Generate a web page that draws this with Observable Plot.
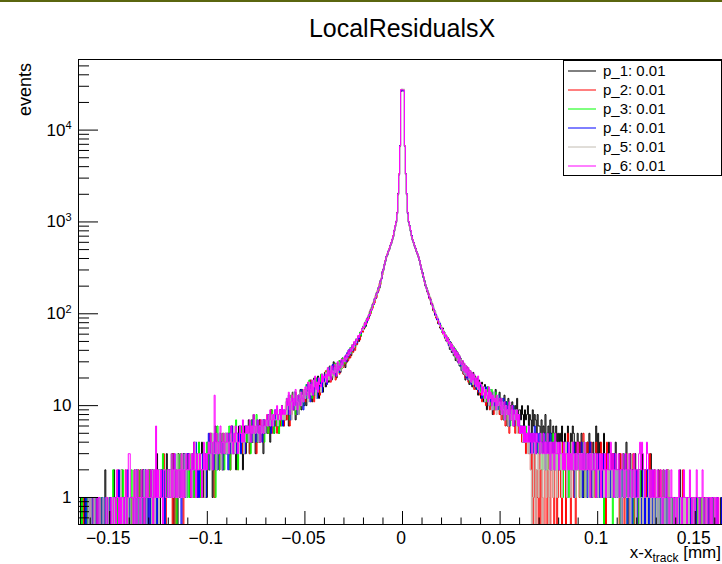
<!DOCTYPE html>
<html>
<head>
<meta charset="utf-8">
<script src="https://cdn.jsdelivr.net/npm/d3@7"></script>
<script src="https://cdn.jsdelivr.net/npm/@observablehq/plot@0.6"></script>
<style>
html, body { margin: 0; padding: 0; background: #fff; overflow: hidden; }
#wrap { position: relative; width: 722px; height: 564px; overflow: hidden; background: #fff;
        font-family: "Liberation Sans", Arial, Helvetica, sans-serif; }
#topbar { position: absolute; left: 0; top: 0; width: 722px; height: 2px; background: #5a650f; }
#title { display: block; }
.overlay { position: absolute; left: 0; top: 0; pointer-events: none; }
</style>
</head>
<body>
<div id="wrap">
  <svg id="title" width="722" height="48">
    <text x="402" y="37" text-anchor="middle" font-size="25" fill="#000"
          font-family="Liberation Sans, Arial, sans-serif">LocalResidualsX</text>
  </svg>
  <div id="chart"></div>
  <div id="topbar"></div>
  <svg class="overlay" width="722" height="564" id="labels"></svg>
</div>
<script>
// ---------------- data ----------------
// bin width 0.0005 mm; "Left" arrays run from x = -0.166 up to 0, "Right" arrays from 0 up to +0.166
const binWidth = 0.0005;
const seriesNames = ["p_1: 0.01", "p_2: 0.01", "p_3: 0.01", "p_4: 0.01", "p_5: 0.01", "p_6: 0.01"];

const p1Left = [
0,0,1,0,0,0,1,0,0,0,0,1,
0,1,0,0,1,0,0,0,1,1,0,0,1,0,0,2,0,1,0,0,
1,0,0,1,2,0,1,0,0,1,1,0,2,1,0,0,1,0,1,1,
1,0,0,1,1,2,0,1,1,0,0,2,1,0,2,1,0,1,1,2,
1,2,0,0,2,1,1,0,3,1,1,0,2,1,1,2,0,1,3,1,
2,1,1,2,3,0,1,2,2,0,3,1,2,1,2,3,1,1,2,2,
3,2,1,1,3,2,4,2,1,1,3,2,2,3,4,1,2,2,3,1,
4,3,2,5,3,1,4,3,6,2,3,4,2,5,3,3,2,4,5,3,
4,5,3,2,6,4,3,5,4,2,5,3,6,4,3,5,2,4,6,3,
5,4,7,3,6,5,4,8,5,3,6,4,5,7,4,6,5,3,7,5,
7,5,8,6,4,9,6,7,5,8,6,9,7,5,8,6,10,7,6,8,
7,11,9,6,12,8,10,14,9,11,7,13,10,8,12,15,9,11,13,10,
15,10,13,17,12,19,14,11,16,20,13,17,15,21,12,18,16,22,14,19,
23,16,20,25,18,27,21,19,24,30,22,26,20,29,25,31,23,28,33,27,
32,26,35,30,38,33,41,35,44,39,48,43,53,47,55,50,62,57,64,71,
68,80,73,88,85,97,95,112,110,128,126,147,145,170,168,195,190,232,240,290,
300,345,372,420,438,482,500,560,580,650,690,815,885,1020,1230,2050,3250,6800,26500,27800
];
const p1Right = [
27200,26900,6650,3350,1980,1270,990,910,790,710,630,600,540,520,470,450,410,385,335,310,
285,248,232,200,195,172,166,148,144,126,124,108,110,96,90,86,78,80,70,74,
63,70,58,62,51,57,48,53,41,49,38,45,35,42,31,39,30,36,27,33,
24,31,22,28,19,27,21,25,17,24,20,16,23,18,21,15,20,13,19,16,
12,18,14,11,17,13,9,16,12,15,10,14,8,13,11,15,9,12,10,14,
8,12,10,7,13,9,11,6,12,8,10,7,11,9,6,10,8,12,7,9,
9,7,10,8,6,9,7,8,10,6,8,7,5,9,6,8,7,5,8,6,
6,5,7,4,6,5,8,4,5,6,3,7,5,4,6,5,3,6,4,5,
4,5,3,6,2,4,5,3,4,6,3,2,5,4,6,5,2,4,3,5,
3,4,2,5,3,1,4,3,2,4,3,5,2,3,1,4,3,2,6,3,
5,3,4,1,3,2,5,2,1,3,2,4,1,3,2,3,1,2,4,2,
2,1,3,2,0,2,3,1,2,4,1,2,0,3,1,2,2,1,3,1,
1,2,0,2,1,3,1,0,2,1,2,1,0,2,3,1,1,0,2,1,
1,0,2,1,1,0,1,2,0,1,1,0,2,1,0,1,0,1,1,0,
1,0,1,0,2,0,1,1,0,0,1,0,1,0,1,0,0,1,0,1,
0,1,0,0,1,0,0,1,0,1,0,0,0,1,0,0,1,0,0,0,
0,1,0,0,0,0,1,0,0,0,0,0
];

const p2Left = [
0,0,0,0,1,0,0,0,0,1,0,0,
1,0,0,0,0,1,0,1,0,0,0,1,0,0,1,0,0,1,0,1,
0,1,1,0,0,1,0,0,2,0,1,0,1,0,0,1,2,0,0,1,
1,1,0,1,0,1,2,0,0,2,1,0,0,2,1,0,1,1,1,0,
2,1,0,2,1,0,1,2,1,2,0,1,1,2,1,3,1,0,2,1,
1,2,2,1,0,3,2,0,2,1,2,1,2,3,1,0,3,2,1,2,
2,3,2,1,2,2,1,3,3,2,1,4,2,1,2,3,2,1,3,2,
3,2,5,4,3,2,4,1,3,5,3,4,2,3,4,2,5,3,4,3,
5,3,4,2,4,6,3,4,5,3,4,2,5,4,6,3,4,5,3,4,
4,6,5,3,5,7,4,5,6,4,3,6,5,4,7,5,6,4,5,6,
6,8,5,7,6,9,5,7,8,6,7,5,8,7,6,9,7,8,6,7,
10,7,9,12,6,11,8,13,10,9,14,8,11,12,9,13,10,15,11,12,
11,16,13,18,12,14,19,13,17,11,16,20,14,18,15,13,21,16,19,17,
19,24,17,22,26,20,18,25,23,21,28,19,26,24,30,22,27,25,32,26,
28,34,29,37,31,39,33,36,42,38,45,40,51,46,50,58,52,60,67,63,
76,70,83,79,92,88,106,100,118,115,135,131,158,150,180,176,214,208,246,265,
310,335,385,410,452,470,518,545,598,630,712,790,910,985,1270,1970,3350,6600,27300,26800
];
const p2Right = [
26900,27500,6750,3280,2020,1240,1010,890,805,695,645,585,555,505,480,440,420,375,345,300,
270,255,222,210,190,178,170,146,150,128,130,112,104,100,90,92,80,82,72,68,
66,60,64,54,58,50,55,45,50,42,46,38,43,35,40,32,37,30,34,28,
26,29,22,27,20,25,23,18,24,19,22,17,21,15,19,16,18,14,17,13,
15,11,16,12,14,10,15,11,13,9,14,10,12,8,13,9,11,10,12,8,
10,7,11,8,9,6,10,7,9,5,8,7,9,6,8,5,7,6,8,5,
5,6,4,5,4,5,3,4,5,3,4,2,3,0,1,4,0,2,1,0,
3,0,2,1,0,0,4,2,0,3,1,0,2,4,1,0,3,2,0,1,
2,3,1,0,4,2,3,0,1,5,2,3,0,2,4,1,3,0,2,4,
3,1,4,2,3,5,2,1,3,4,2,3,1,4,2,3,2,1,4,2,
1,3,2,4,2,1,3,2,0,4,2,1,3,2,1,2,3,1,2,1,
2,1,0,3,1,2,2,0,1,3,1,2,0,1,2,1,3,0,2,1,
1,0,2,1,0,1,2,1,0,2,1,0,1,3,0,1,1,0,2,0,
0,1,1,0,2,0,1,0,1,1,0,2,0,1,0,0,1,1,0,1,
1,0,0,1,0,1,0,2,0,0,1,0,1,0,0,1,0,0,1,0,
0,0,1,0,0,0,1,0,0,1,0,0,0,0,1,0,0,0,1,0,
0,0,0,1,0,0,0,0,0,1,0,0
];

const p3Left = [
0,0,0,1,0,0,0,0,1,0,0,0,
0,0,1,0,1,0,0,0,0,1,0,1,0,0,0,1,1,0,0,1,
0,1,0,2,0,0,1,1,0,1,0,0,1,2,0,1,0,1,1,0,
1,0,2,1,1,0,1,0,2,0,1,2,0,0,1,1,2,1,0,1,
2,1,0,1,1,2,2,0,1,0,2,1,1,1,3,1,0,2,1,1,
2,1,1,3,2,1,2,2,0,3,1,2,3,1,1,2,1,3,2,1,
2,1,2,3,3,1,2,1,3,2,2,4,1,2,1,3,2,2,3,4,
2,4,3,3,5,2,4,3,1,4,6,3,2,4,3,5,3,2,4,3,
3,4,6,2,4,3,5,4,3,7,4,2,4,5,3,6,4,3,5,4,
5,4,6,5,3,7,5,4,6,5,8,4,5,6,4,5,7,5,4,6,
7,6,5,8,6,7,9,6,5,8,7,6,8,5,9,7,6,8,7,9,
8,12,9,11,7,13,10,9,12,14,8,11,10,13,9,12,15,11,10,14,
13,17,12,15,19,14,16,12,18,15,13,20,16,14,19,17,22,15,18,20,
21,18,24,20,26,19,23,27,21,25,22,29,24,26,23,31,27,25,33,28,
33,29,36,32,40,35,43,37,46,41,49,44,53,49,57,54,63,58,69,73,
75,71,84,80,92,91,104,103,118,120,132,140,150,158,175,182,205,215,242,275,
295,350,370,425,430,485,505,555,585,645,695,805,890,1010,1240,2010,3300,6650,27100,27400
];
const p3Right = [
27000,27300,6700,3320,2000,1250,1000,900,800,705,640,592,548,512,474,446,414,380,340,306,
280,245,230,205,193,180,160,157,140,137,122,120,107,106,94,93,84,82,74,75,
70,62,65,55,59,50,55,46,50,41,47,39,44,34,41,32,38,29,35,27,
31,25,29,23,27,21,26,20,24,18,23,17,22,19,20,16,19,15,18,14,
17,13,16,12,15,14,11,16,12,13,10,15,11,12,9,14,10,11,13,9,
11,9,12,8,10,9,7,11,8,10,6,9,8,10,7,8,9,6,8,7,
6,5,6,5,5,4,6,4,5,4,5,3,5,4,3,5,4,3,4,3,
4,3,5,2,4,3,3,5,2,4,3,2,4,3,5,2,3,4,2,3,
3,2,4,3,1,3,2,4,2,3,1,3,2,4,3,2,3,1,3,2,
2,3,1,3,2,4,2,1,3,2,3,1,2,3,2,1,3,2,2,1,
2,1,3,1,2,2,0,3,1,2,1,2,3,1,2,0,2,1,3,1,
1,2,1,0,2,1,3,1,1,2,0,1,2,1,1,2,0,1,2,1,
1,1,0,2,1,0,1,1,2,0,1,1,0,1,2,0,1,1,0,1,
0,1,1,0,1,1,0,2,0,1,0,1,1,0,0,1,1,0,1,0,
1,0,0,1,0,0,1,0,1,1,0,0,1,0,0,1,0,0,0,1,
0,0,1,0,0,1,0,0,0,0,1,0,0,1,0,0,0,0,1,0,
0,1,0,0,0,0,0,0,1,0,0,0
];

const p4Left = [
0,0,0,0,0,0,0,1,0,0,1,0,
0,1,0,0,0,1,0,0,1,0,0,0,1,0,1,0,0,1,0,0,
1,0,0,1,0,1,1,0,0,2,0,1,0,1,0,1,0,0,2,1,
0,1,1,1,0,1,0,2,0,1,1,0,1,0,2,1,2,0,1,0,
1,0,1,2,1,1,0,2,0,1,2,1,1,2,1,2,0,1,1,2,
1,2,2,1,1,2,3,1,2,1,1,2,2,0,2,2,3,1,1,3,
3,2,2,2,1,3,2,2,4,1,2,1,3,2,2,3,2,3,1,2,
3,5,2,4,3,3,2,5,3,4,2,3,5,3,4,2,4,3,3,5,
4,2,5,4,3,6,4,3,5,4,3,5,4,6,3,4,5,4,3,6,
6,5,4,6,5,4,7,5,6,4,5,7,4,6,5,6,4,7,5,5,
6,7,8,6,7,5,8,7,6,9,7,8,6,7,9,8,7,6,9,8,
9,11,8,13,10,7,12,11,9,14,10,12,8,13,11,10,15,12,9,13,
14,12,17,13,16,11,18,15,13,19,14,17,12,20,16,15,18,14,21,17,
22,19,17,24,21,26,20,23,28,22,25,21,27,24,29,23,26,31,27,30,
31,35,30,38,34,41,36,39,44,40,47,45,51,48,55,53,60,61,66,70,
74,73,82,81,90,93,100,108,112,125,127,144,150,163,172,190,200,224,238,282,
308,338,378,418,442,480,508,548,592,638,702,795,905,995,1255,1990,3300,6750,26700,27100
];
const p4Right = [
26600,27200,6620,3300,2030,1230,995,905,795,712,635,590,552,508,478,442,418,378,342,302,
278,250,226,210,188,182,162,150,145,130,126,116,110,98,98,86,88,77,79,68,
69,62,63,55,57,50,53,45,50,41,46,38,43,36,40,33,37,29,34,27,
29,24,27,22,26,20,25,19,23,21,17,22,18,20,16,19,15,18,14,17,
16,12,15,13,11,16,12,14,10,15,11,13,9,14,10,12,11,9,13,10,
11,8,10,12,7,9,11,8,10,6,9,8,7,10,6,9,7,8,6,8,
6,5,6,4,6,4,5,5,4,6,3,5,4,5,3,6,4,3,5,4,
5,3,4,4,3,5,2,4,3,4,3,5,2,3,4,3,2,4,3,3,
2,4,3,2,3,4,2,3,1,4,3,2,3,3,2,4,1,3,2,3,
3,2,2,4,1,3,2,3,2,1,3,2,4,2,1,3,2,2,3,1,
2,3,1,2,2,1,3,2,1,2,3,1,2,1,2,2,1,3,1,2,
1,2,1,2,0,2,1,1,3,1,0,2,1,2,1,0,2,1,1,2,
0,1,2,1,1,0,2,1,0,1,1,2,0,1,1,0,2,1,0,1,
1,0,1,1,0,1,0,1,1,0,2,0,1,0,1,1,0,0,1,1,
0,1,0,0,1,0,1,0,0,1,0,1,0,0,1,0,0,1,0,0,
1,0,0,0,1,0,0,0,1,0,0,0,0,1,0,0,0,1,0,0,
0,0,1,0,0,0,0,1,0,0,0,0
];

const p5Left = [
0,0,0,0,0,0,0,0,0,0,1,0,
1,0,0,0,1,0,0,0,0,1,0,0,0,1,0,0,0,1,1,0,
0,0,1,0,1,0,0,1,1,0,0,2,0,1,0,0,1,1,0,1,
1,0,0,1,1,0,2,1,0,0,1,1,0,1,1,2,0,0,2,1,
1,1,1,0,2,2,0,1,1,2,0,2,1,1,0,2,2,1,1,1,
2,1,2,1,2,1,2,2,1,3,1,2,2,1,3,1,2,3,1,2,
2,2,3,3,1,2,2,4,1,2,3,2,3,2,2,2,3,1,2,3,
3,4,3,2,4,5,3,3,4,2,4,3,5,3,2,4,4,3,5,3,
5,3,4,4,5,3,4,6,3,5,4,4,3,5,5,4,6,3,4,5,
5,6,4,5,6,5,6,4,7,5,6,5,4,6,6,5,7,5,6,5,
7,6,7,8,6,7,8,6,8,7,7,9,6,8,7,8,8,7,9,7,
11,8,10,13,9,12,7,11,14,10,9,13,11,8,12,14,10,13,11,15,
12,16,14,11,18,15,13,17,14,19,16,12,18,15,20,17,14,19,22,16,
18,23,20,25,19,22,27,21,24,20,26,23,28,22,30,25,24,29,26,32,
30,33,32,36,35,38,37,42,40,45,43,49,48,52,55,57,60,63,68,66,
78,75,83,85,88,96,98,108,113,123,130,141,154,160,178,185,206,218,250,272,
302,342,380,412,448,472,512,548,588,642,698,802,898,1005,1245,2005,3310,6700,27500,27900
];
const p5Right = [
27700,28000,6680,3290,2010,1260,1005,895,802,698,642,588,552,508,478,444,416,382,338,308,
268,258,220,212,185,183,160,158,137,138,120,119,106,107,93,94,83,83,73,74,
64,68,57,62,52,57,48,52,44,48,40,45,37,41,34,38,31,35,28,32,
30,24,28,22,27,21,25,23,19,24,18,22,17,21,20,16,19,15,18,14,
14,17,13,16,11,15,12,14,10,15,12,13,9,14,11,12,8,13,10,11,
10,8,11,9,7,10,8,9,6,10,8,7,9,6,8,7,9,5,8,6,
5,5,5,4,5,4,4,5,3,4,3,2,0,1,3,4,0,2,3,1,
2,4,3,0,3,2,4,1,3,2,0,4,2,3,1,3,2,4,1,3,
3,2,4,1,3,2,2,4,1,3,2,3,1,4,2,3,2,1,3,2,
2,3,1,3,2,2,4,1,2,3,2,1,3,2,3,1,2,3,2,2,
1,2,3,1,2,2,1,3,2,1,2,1,3,2,1,2,2,1,2,1,
2,1,1,2,0,1,2,1,2,1,1,3,1,0,2,1,1,2,1,0,
1,1,2,0,1,1,0,2,1,1,0,1,2,1,0,1,1,0,1,2,
0,1,0,1,1,0,1,1,0,1,0,0,2,0,1,0,1,1,0,0,
1,0,1,0,0,1,0,0,1,0,1,0,0,1,0,0,0,1,0,1,
0,0,0,1,0,0,0,1,0,0,0,1,0,0,0,0,1,0,0,0,
1,0,0,0,0,0,0,0,1,0,0,0
];

const p6Left = [
0,0,0,0,0,0,0,0,0,0,0,0,
0,0,0,1,1,1,1,0,1,1,0,0,0,0,0,0,1,1,0,0,
0,1,0,0,1,1,0,2,1,0,1,0,1,1,0,1,2,0,1,3,
3,1,1,1,0,2,1,0,2,1,1,0,2,1,1,0,1,2,1,2,
1,1,2,1,0,2,1,6,1,2,1,1,2,1,0,2,2,1,1,2,
2,1,1,3,1,2,3,1,2,1,2,2,1,3,1,2,1,2,3,2,
2,3,2,1,3,2,4,2,1,3,2,2,3,2,1,2,4,2,3,2,
3,4,3,5,4,2,4,13,3,5,4,3,4,6,3,4,5,3,4,4,
5,4,3,5,6,4,3,5,4,6,5,3,4,6,5,4,7,4,5,6,
5,6,5,7,4,6,5,8,6,5,6,7,5,6,4,7,6,5,7,6,
7,8,6,7,9,7,6,8,7,9,8,10,7,8,9,7,10,8,9,8,
9,12,10,14,8,11,13,9,12,10,15,11,9,13,12,10,14,12,11,15,
16,13,15,18,12,17,14,19,13,16,21,15,18,14,20,17,16,22,18,21,
20,22,18,26,21,24,19,27,23,22,28,25,21,30,24,27,26,32,28,31,
34,30,36,33,40,36,42,39,46,42,50,46,53,51,58,55,61,64,69,72,
70,80,76,89,84,98,96,110,109,125,128,146,148,167,170,192,198,228,238,286,
298,345,376,422,440,482,505,556,586,648,696,808,895,1010,1240,2020,3280,6720,27600,27300
];
const p6Right = [
27400,27100,6680,3330,1990,1260,1010,895,810,700,635,595,545,515,470,450,410,385,338,310,
274,254,226,205,190,177,163,153,142,132,124,114,110,102,96,89,85,78,76,70,
70,61,64,56,59,50,55,47,49,42,47,39,43,35,40,33,38,29,35,30,
28,31,24,29,23,27,21,26,20,24,18,23,19,22,17,20,16,21,15,18,
17,13,16,14,12,15,13,11,16,12,14,10,13,11,12,9,13,10,11,12,
9,12,8,10,11,7,10,9,8,11,7,9,10,6,9,8,7,9,6,8,
5,6,5,6,4,6,4,5,4,6,4,5,3,5,4,5,3,5,4,4,
3,5,4,3,5,3,4,3,5,3,4,2,4,3,4,2,5,3,3,4,
2,4,3,3,2,4,2,3,3,2,4,2,3,2,4,3,2,3,2,4,
3,2,3,2,3,2,4,2,2,3,2,3,1,3,2,2,3,2,1,3,
2,2,3,1,3,2,2,3,1,2,3,2,2,4,2,3,1,2,3,2,
2,3,1,2,2,3,2,1,3,2,2,1,3,2,2,1,2,3,1,2,
2,1,3,4,2,4,3,2,1,2,4,3,2,1,2,1,2,1,2,1,
1,2,1,1,2,1,0,2,1,1,2,1,1,0,1,2,1,1,0,1,
1,0,1,2,1,1,0,1,2,1,1,0,1,1,2,1,0,1,1,0,
1,2,1,1,0,1,1,2,1,0,1,1,0,1,1,0,1,0,1,1,
0,1,0,1,0,0,0,0,0,0,0,0
];

const xMajorTicks  = [-0.15, -0.1, -0.05, 0, 0.05, 0.1, 0.15];
const xMajorLabels = ["\u22120.15", "\u22120.1", "\u22120.05", "0", "0.05", "0.1", "0.15"];
const xMinorTicks  = [-0.16, -0.14, -0.13, -0.12, -0.11, -0.09, -0.08, -0.07, -0.06, -0.04, -0.03, -0.02, -0.01,
                      0.01, 0.02, 0.03, 0.04, 0.06, 0.07, 0.08, 0.09, 0.11, 0.12, 0.13, 0.14, 0.16];
const yMajorTicks  = [1, 10, 100, 1000, 10000];
const yMajorLabels = ["1", "10", "10^2", "10^3", "10^4"];
const yMinorTicks  = [0.6, 0.7, 0.8, 0.9, 2, 3, 4, 5, 6, 7, 8, 9, 20, 30, 40, 50, 60, 70, 80, 90,
                      200, 300, 400, 500, 600, 700, 800, 900, 2000, 3000, 4000, 5000, 6000, 7000, 8000, 9000,
                      20000, 30000, 40000, 50000];
const xDomain = [-0.166, 0.166];
const yDomain = [0.508, 58700];

// ---------------- build ----------------
const seriesColors = ["#000000", "#ff0000", "#00ff00", "#0000ff", "#c2bcb2", "#ff00ff"];
const leftArrays  = [p1Left, p2Left, p3Left, p4Left, p5Left, p6Left];
const rightArrays = [p1Right, p2Right, p3Right, p4Right, p5Right, p6Right];
const floorY = v => (v > 0 ? v : yDomain[0]);   // empty bins drawn on the frame bottom, as ROOT does
const rows = [];
seriesNames.forEach((name, s) => {
  const L = leftArrays[s], R = rightArrays[s];
  L.forEach((v, i) => rows.push({series: name, x: -(L.length - i) * binWidth, y: floorY(v)}));
  R.forEach((v, j) => rows.push({series: name, x: j * binWidth, y: floorY(v)}));
  rows.push({series: name, x: R.length * binWidth, y: floorY(R[R.length - 1])});
});

const chart = Plot.plot({
  width: 728,
  height: 516,
  marginTop: 11,
  marginBottom: 40,
  marginLeft: 78,
  marginRight: 2,
  style: {fontFamily: "Liberation Sans, Arial, sans-serif", fontSize: "17px", maxWidth: "none", background: "white", color: "#000"},
  x: {domain: xDomain, axis: null},
  y: {type: "log", domain: yDomain, axis: null},
  color: {domain: seriesNames, range: seriesColors},
  marks: [
    Plot.line(rows, {x: "x", y: "y", z: "series", stroke: "series", curve: "step-after",
                     strokeWidth: 1, clip: true}),
    Plot.frame({stroke: "#000", strokeWidth: 1}),
    Plot.axisX(xMajorTicks, {anchor: "bottom", tickSize: -13, fill: "none", label: null}),
    Plot.axisX(xMinorTicks, {anchor: "bottom", tickSize: -6.5, fill: "none", label: null}),
    Plot.axisX(xMajorTicks, {anchor: "bottom", tickSize: 0, tickPadding: 7, fontSize: 17.5, dx: -1.5,
                             tickFormat: d => xMajorLabels[xMajorTicks.indexOf(d)], label: null}),
    Plot.axisY(yMajorTicks, {anchor: "left", tickSize: -20, fill: "none", label: null}),
    Plot.axisY(yMinorTicks, {anchor: "left", tickSize: -11, fill: "none", label: null}),
    Plot.axisY(yMajorTicks, {anchor: "left", tickSize: 0, tickPadding: 7, fontSize: 17,
                             tickFormat: d => yMajorLabels[yMajorTicks.indexOf(d)], label: null})
  ]
});
document.getElementById("chart").appendChild(chart);

// superscripts for y tick labels
d3.select(chart).selectAll("text").each(function() {
  const t = this.textContent;
  if (t && t.indexOf("^") > 0) {
    const [base, sup] = t.split("^");
    const sel = d3.select(this);
    sel.text("");
    sel.append("tspan").text(base);
    sel.append("tspan").attr("dy", "-0.55em").attr("font-size", "11px").text(sup);
  }
});

// ---------------- overlay texts: axis titles and legend ----------------
const ov = d3.select("#labels");
ov.append("text")
  .attr("transform", "translate(31,63) rotate(-90)")
  .attr("text-anchor", "end").attr("font-size", 18).text("events");

const xl = ov.append("text").attr("x", 721).attr("y", 558).attr("text-anchor", "end").attr("font-size", 17);
xl.append("tspan").text("x-x");
xl.append("tspan").attr("dy", 4).attr("font-size", 12).text("track");
xl.append("tspan").attr("dy", -4).text(" [mm]");

const lg = ov.append("g").attr("transform", "translate(563,60)");
lg.append("rect").attr("x", 0.5).attr("y", 0.5).attr("width", 158).attr("height", 115)
  .attr("fill", "white").attr("stroke", "#000");
seriesNames.forEach((name, i) => {
  const yy = 11 + 19 * i;
  lg.append("line").attr("x1", 5).attr("x2", 33).attr("y1", yy).attr("y2", yy)
    .attr("stroke", seriesColors[i]).attr("stroke-width", 1);
  lg.append("text").attr("x", 40).attr("y", yy - 0.5).attr("dy", "0.35em").attr("font-size", 15).text(name);
});
</script>
</body>
</html>
